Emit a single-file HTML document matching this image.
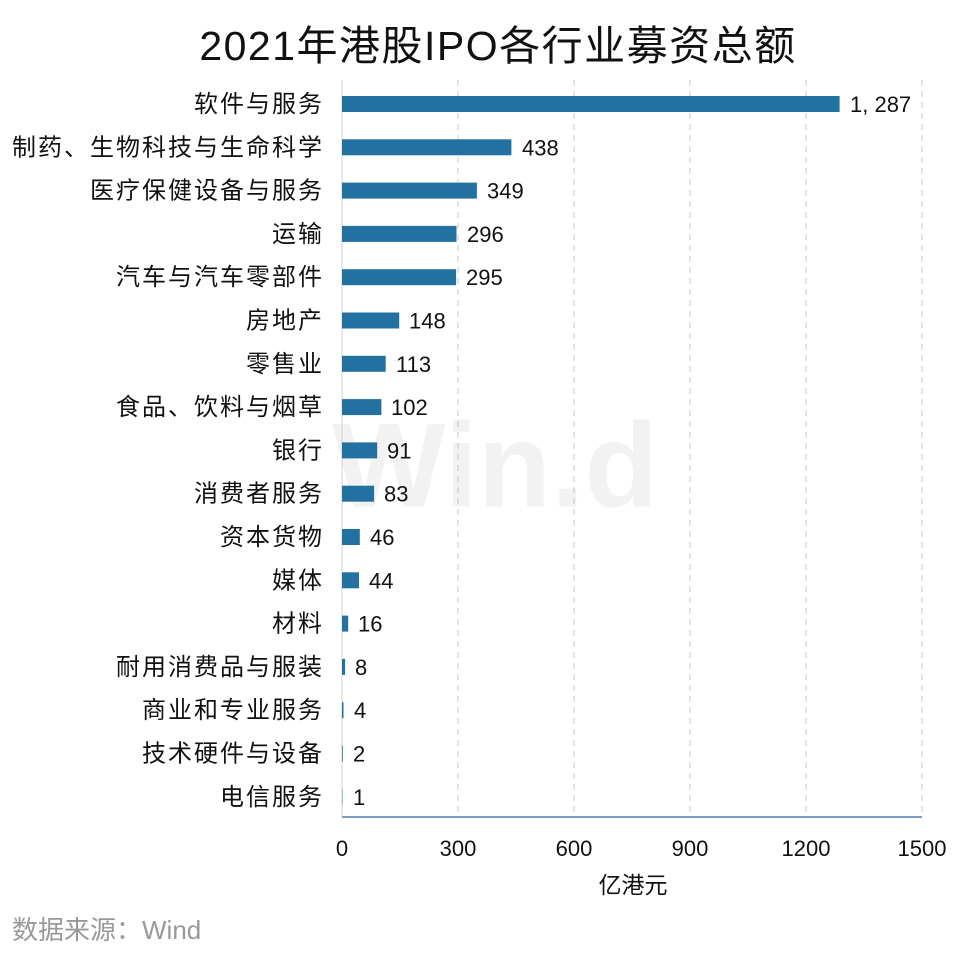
<!DOCTYPE html>
<html><head><meta charset="utf-8"><style>body{margin:0;background:#fff}svg{display:block}</style></head><body>
<svg width="960" height="953" xmlns="http://www.w3.org/2000/svg" font-family="Liberation Sans, Noto Sans CJK SC, sans-serif">
<rect width="960" height="953" fill="#fff"/>
<text x="495" y="475" font-size="120" font-weight="bold" fill="#f2f2f2" text-anchor="middle" dominant-baseline="middle">Win.d</text>
<text x="498" y="60" font-size="41" text-anchor="middle" fill="#111" letter-spacing="1.5">2021年港股IPO各行业募资总额</text>
<g stroke="#c8c8c8" stroke-dasharray="6,5" stroke-width="1">
<line x1="458" y1="80" x2="458" y2="817"/><line x1="574" y1="80" x2="574" y2="817"/><line x1="690" y1="80" x2="690" y2="817"/><line x1="806" y1="80" x2="806" y2="817"/><line x1="922" y1="80" x2="922" y2="817"/>
</g>
<line x1="342" y1="80" x2="342" y2="817" stroke="#d0d0d0"/>
<line x1="342" y1="817" x2="922" y2="817" stroke="#7d9cc8" stroke-width="2"/>
<g fill="#2271a0">
<rect x="342" y="96" width="497.6" height="16"/>
<rect x="342" y="139.3" width="169.4" height="16"/>
<rect x="342" y="182.6" width="134.9" height="16"/>
<rect x="342" y="225.9" width="114.5" height="16"/>
<rect x="342" y="269.2" width="114.1" height="16"/>
<rect x="342" y="312.5" width="57.2" height="16"/>
<rect x="342" y="355.8" width="43.7" height="16"/>
<rect x="342" y="399.1" width="39.4" height="16"/>
<rect x="342" y="442.4" width="35.2" height="16"/>
<rect x="342" y="485.7" width="32.1" height="16"/>
<rect x="342" y="529" width="17.8" height="16"/>
<rect x="342" y="572.3" width="17" height="16"/>
<rect x="342" y="615.6" width="6.2" height="16"/>
<rect x="342" y="658.9" width="3.1" height="16"/>
<rect x="342" y="702.2" width="1.5" height="16"/>
<rect x="342" y="745.5" width="0.8" height="16"/>
<rect x="342" y="788.8" width="0.4" height="16"/>
</g>
<g font-size="24" fill="#111" text-anchor="end" letter-spacing="2">
<text x="324" y="112">软件与服务</text>
<text x="324" y="155.3">制药、生物科技与生命科学</text>
<text x="324" y="198.6">医疗保健设备与服务</text>
<text x="324" y="241.9">运输</text>
<text x="324" y="285.2">汽车与汽车零部件</text>
<text x="324" y="328.5">房地产</text>
<text x="324" y="371.8">零售业</text>
<text x="324" y="415.1">食品、饮料与烟草</text>
<text x="324" y="458.4">银行</text>
<text x="324" y="501.7">消费者服务</text>
<text x="324" y="545">资本货物</text>
<text x="324" y="588.3">媒体</text>
<text x="324" y="631.6">材料</text>
<text x="324" y="674.9">耐用消费品与服装</text>
<text x="324" y="718.2">商业和专业服务</text>
<text x="324" y="761.5">技术硬件与设备</text>
<text x="324" y="804.8">电信服务</text>
</g>
<g font-size="22" fill="#111">
<text x="850" y="112">1, 287</text>
<text x="522" y="155.3">438</text>
<text x="487" y="198.6">349</text>
<text x="467" y="241.9">296</text>
<text x="466" y="285.2">295</text>
<text x="409" y="328.5">148</text>
<text x="396" y="371.8">113</text>
<text x="391" y="415.1">102</text>
<text x="387" y="458.4">91</text>
<text x="384" y="501.7">83</text>
<text x="370" y="545">46</text>
<text x="369" y="588.3">44</text>
<text x="358" y="631.6">16</text>
<text x="355" y="674.9">8</text>
<text x="354" y="718.2">4</text>
<text x="353" y="761.5">2</text>
<text x="353" y="804.8">1</text>
</g>
<g font-size="22" fill="#111" text-anchor="middle">
<text x="342" y="856">0</text><text x="458" y="856">300</text><text x="574" y="856">600</text><text x="690" y="856">900</text><text x="806" y="856">1200</text><text x="922" y="856">1500</text>
<text x="633" y="893" font-size="23">亿港元</text>
</g>
<text x="12" y="939" font-size="26" fill="#999">数据来源：Wind</text>
</svg>
</body></html>
